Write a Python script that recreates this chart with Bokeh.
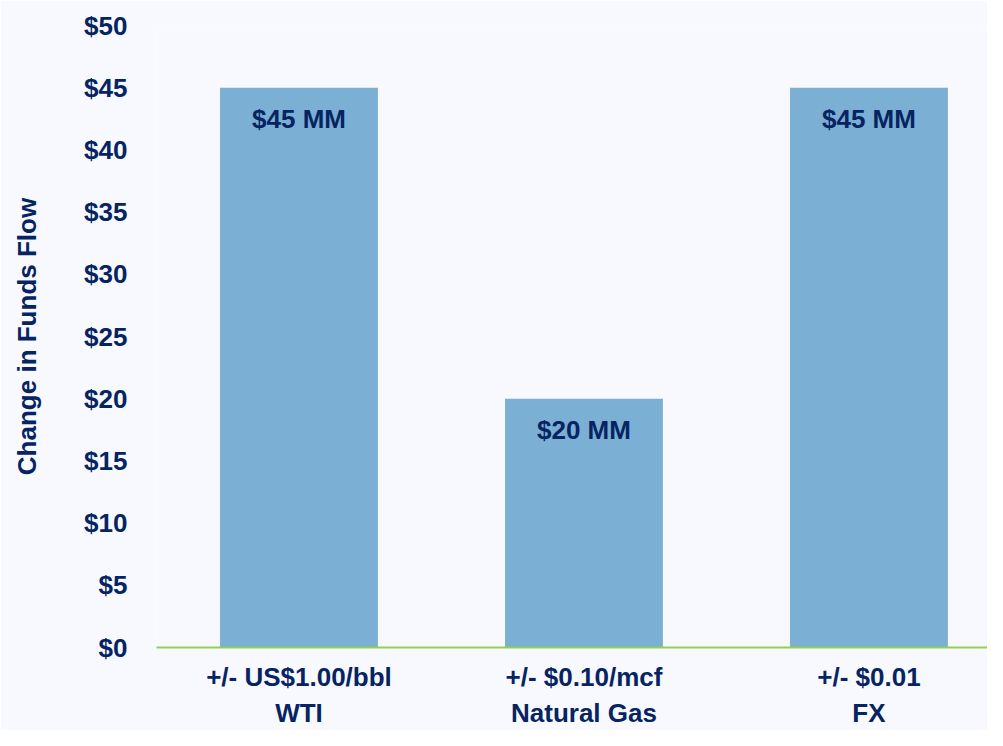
from bokeh.plotting import figure
from bokeh.models import ColumnDataSource, Range1d, FixedTicker
from bokeh.core.properties import value
from bokeh.embed import file_html
from bokeh.resources import INLINE

categories = ["+/- US$1.00/bbl\nWTI", "+/- $0.10/mcf\nNatural Gas", "+/- $0.01\nFX"]
values = [45, 20, 45]
bar_labels = ["$45 MM", "$20 MM", "$45 MM"]
y_ticks = [0, 5, 10, 15, 20, 25, 30, 35, 40, 45, 50]

FONT = "Liberation Sans"
NAVY = "#062462"
BG = "#F8F9FE"

xpos = [i + 0.5 for i in range(len(categories))]
src = ColumnDataSource(dict(x=xpos, top=values, label=bar_labels))

p = figure(width=987, height=730, output_backend="svg", toolbar_location=None,
           x_range=Range1d(0, 2.916), y_range=Range1d(0, 50),
           min_border_left=156, min_border_right=0, min_border_top=25, min_border_bottom=0)
p.background_fill_color = BG
p.border_fill_color = BG
p.outline_line_color = None
p.grid.visible = False

p.vbar(x="x", top="top", bottom=0, width=0.554, source=src, color="#7BAFD4", line_color=None)
p.text(x="x", y="top", text="label", source=src, y_offset=31, text_align="center",
       text_baseline="middle", text_color=NAVY, text_font=value(FONT),
       text_font_style="bold", text_font_size="26px")

p.xaxis.ticker = FixedTicker(ticks=xpos)
p.xaxis.major_label_overrides = {x: c for x, c in zip(xpos, categories)}
p.xaxis.axis_line_color = "#92D050"
p.xaxis.axis_line_width = 2
p.xaxis.major_tick_line_color = None
p.xaxis.major_tick_out = 0
p.xaxis.major_tick_in = 0
p.xaxis.minor_tick_line_color = None
p.xaxis.major_label_standoff = 14
p.xaxis.major_label_text_font = FONT
p.xaxis.major_label_text_font_style = "bold"
p.xaxis.major_label_text_font_size = "26px"
p.xaxis.major_label_text_color = NAVY

p.yaxis.ticker = FixedTicker(ticks=y_ticks)
p.yaxis.major_label_overrides = {t: f"${t}" for t in y_ticks}
p.yaxis.axis_line_color = None
p.yaxis.major_tick_line_color = None
p.yaxis.major_tick_out = 0
p.yaxis.major_tick_in = 0
p.yaxis.minor_tick_line_color = None
p.yaxis.major_label_standoff = 29
p.yaxis.major_label_text_font = FONT
p.yaxis.major_label_text_font_style = "bold"
p.yaxis.major_label_text_font_size = "26px"
p.yaxis.major_label_text_color = NAVY
p.yaxis.axis_label = "Change in Funds Flow"
p.yaxis.axis_label_standoff = 39
p.yaxis.axis_label_text_font = FONT
p.yaxis.axis_label_text_font_style = "bold"
p.yaxis.axis_label_text_font_size = "26px"
p.yaxis.axis_label_text_color = NAVY

open("out.html", "w").write(file_html(p, INLINE))
